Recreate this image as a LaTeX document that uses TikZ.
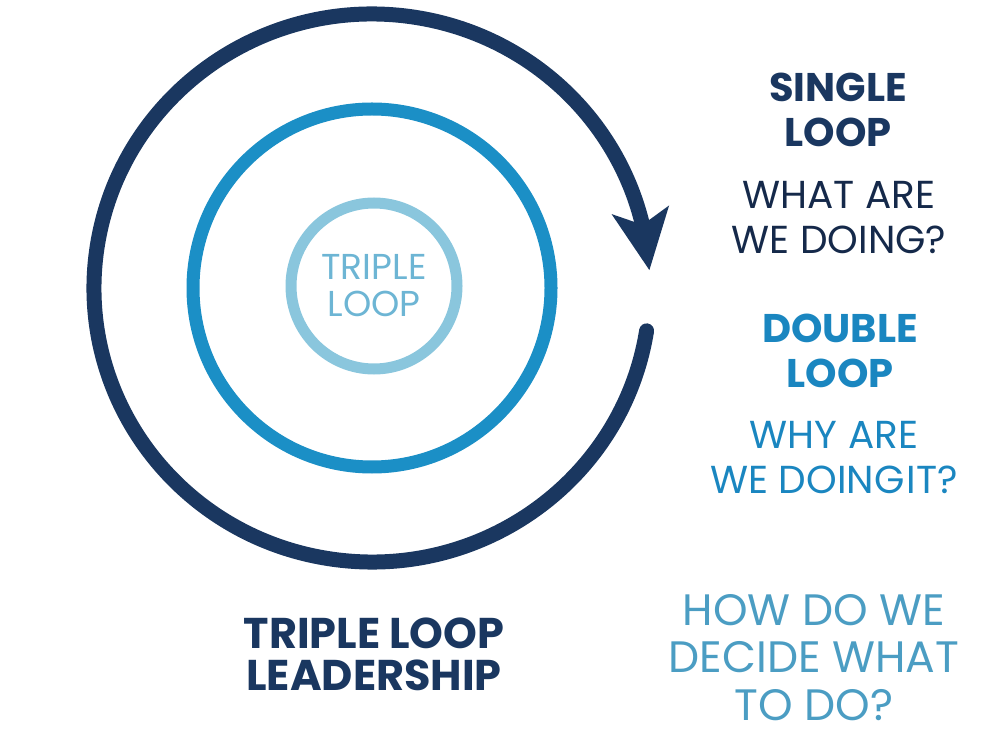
\documentclass[tikz,border=0pt]{standalone}
\usepackage{fontspec}
\setmainfont{Poppins}
\usepackage{xcolor}
\usetikzlibrary{arrows.meta,bending}

\definecolor{navy}{HTML}{1A3760}
\definecolor{darknavy}{HTML}{15294A}
\definecolor{midblue}{HTML}{1B8FC6}
\definecolor{textblue}{HTML}{1A86C0}
\definecolor{lightblue}{HTML}{8AC6DD}
\definecolor{innertext}{HTML}{6DB5D4}
\definecolor{paleblue}{HTML}{4B9DC3}

\begin{document}
\begin{tikzpicture}[x=1pt,y=1pt,
    heading/.style={anchor=base,align=center,font=\bfseries\fontsize{40}{45}\selectfont},
    question/.style={anchor=base,align=center,font=\fontsize{39}{45}\selectfont}]
\useasboundingbox (0,0) rectangle (1000,750);

% loops
\coordinate (o) at (372,462);
\draw[navy,line width=15pt,line cap=round,-{Stealth[length=60pt,width=56pt,inset=14pt]}]
    (o) ++(-9:278 and 274) arc[start angle=-9,end angle=-356.3,x radius=278,y radius=274];
\draw[midblue,line width=13pt] (o) circle[radius=179];
\node (inner) at (374,464) [circle,draw=lightblue,line width=11pt,minimum size=166pt,inner sep=0pt,
    align=center,text=innertext,font=\fontsize{36}{37}\selectfont] {TRIPLE\\LOOP};

% labels (anchored at the last line)
\node (single) at (838,603) [heading,text=navy] {SINGLE\\LOOP};
\node (singleq) at (839,496) [question,text=darknavy] {WHAT ARE\\WE DOING?};
\node (double) at (840,362) [heading,text=textblue] {DOUBLE\\LOOP};
\node (doubleq) at (834,257) [question,text=textblue] {WHY ARE\\WE DOING\kern2pt IT?};
\node (tripleq) at (814,30) [question,text=paleblue,font=\fontsize{44}{47.5}\selectfont] {HOW DO WE\\DECIDE WHAT\\TO DO?};
\node (title) at (374,60) [heading,text=navy,font=\bfseries\fontsize{43}{42}\selectfont] {TRIPLE LOOP\\LEADERSHIP};

\end{tikzpicture}
\end{document}
